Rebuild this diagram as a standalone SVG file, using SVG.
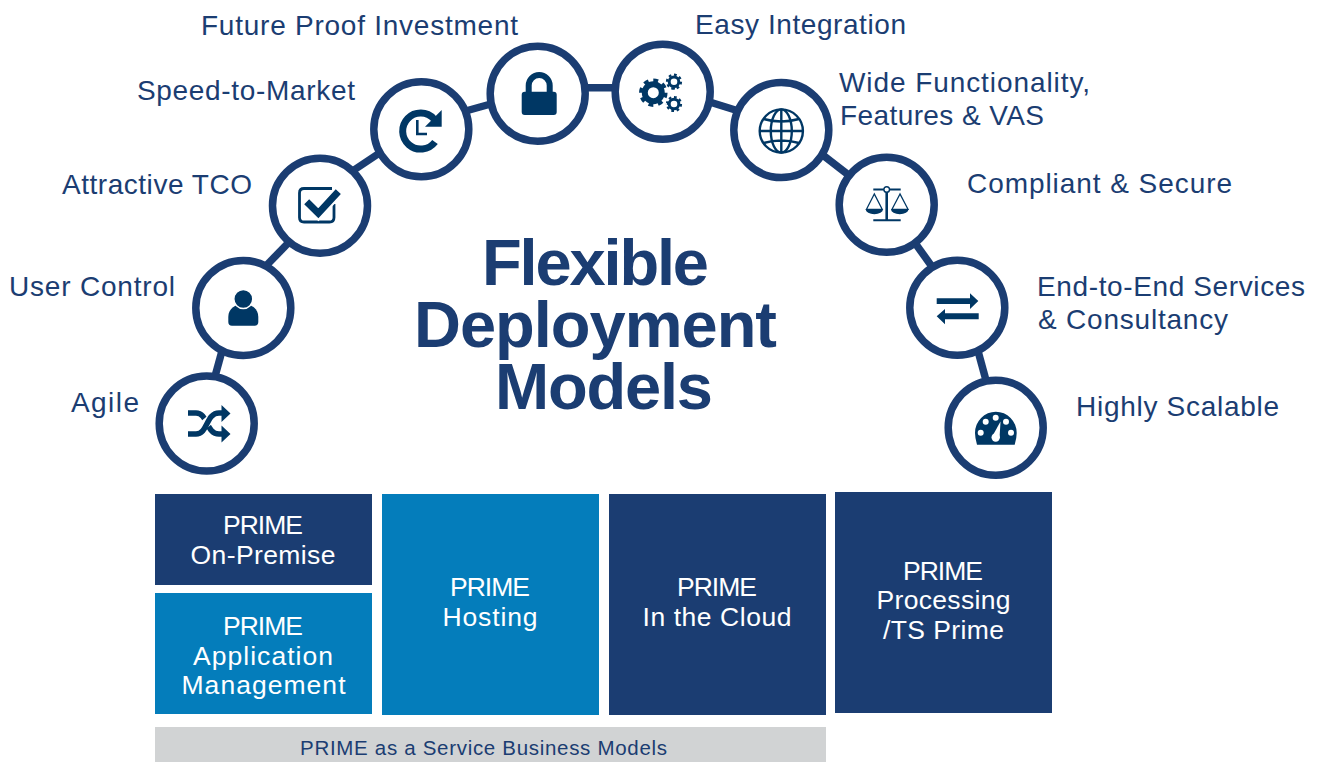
<svg xmlns="http://www.w3.org/2000/svg" width="1322" height="762" viewBox="0 0 1322 762">
<style>
text{font-family:"Liberation Sans","Open Sans",sans-serif}
.l{font-size:28px;fill:#1b3d72}
.t{font-size:65px;font-weight:700;fill:#1b3d72;text-anchor:middle}
.b{font-size:26.5px;fill:#fff;text-anchor:middle}
.g{font-size:20.5px;fill:#1b3d72}
.c{fill:#fff;stroke:#1b3d72;stroke-width:7.5}
.k{stroke:#1b3d72;stroke-width:7.5;fill:none}
.f{fill:#003764}
.s{fill:none;stroke:#003764}
.n{fill:#1b3d72}.h{fill:#047dbb}
</style>
<rect width="1322" height="762" fill="#fff"/>
<g id="connectors" class="k">
<path d="M225 340L214 380"/>
<path d="M262 270L295 236"/>
<path d="M345 176L390 146"/>
<path d="M455 114L505 100"/>
<path d="M575 87.7H625"/>
<path d="M700 99L745 113"/>
<path d="M815 149L855 180"/>
<path d="M910 236L938 275"/>
<path d="M975 340L990 395"/>
</g>
<g id="agile"><circle class="c" cx="206.7" cy="423.5" r="47.5"/>
<path class="s" stroke-width="5.5" d="M188 413H196C208 413 206 434 219 434H224"/>
<path fill="none" stroke="#fff" stroke-width="9" d="M200 428L212 418"/>
<path class="s" stroke-width="5.5" d="M188 434H196C208 434 206 413 219 413H224"/>
<path class="f" d="M221.5 405L230.5 413.500L221.5 422ZM221.5 425.500L230.5 434L221.5 442.500Z"/>
<text class="l" x="71" y="411.5" textLength="68" lengthAdjust="spacing">Agile</text></g>
<g id="user-control"><circle class="c" cx="243.3" cy="308" r="47.5"/>
<path class="f" d="M228.3 322V317C228.3 308 236 304 243.3 304S258.3 308 258.3 317V322Q258.3 325.7 254.5 325.7H232Q228.3 325.7 228.3 322Z"/>
<circle class="f" cx="243.3" cy="299" r="9.500" stroke="#fff" stroke-width="1.500"/>
<text class="l" x="9" y="295.5" textLength="166" lengthAdjust="spacing">User Control</text></g>
<g id="attractive-tco"><circle class="c" cx="320" cy="205.7" r="47.5"/>
<path class="s" stroke-width="2.800" d="M332 188.500H304Q299.500 188.500 299.500 193V217.500Q299.500 222 304 222H329.500Q334 222 334 217.500V204"/>
<path fill="none" stroke="#fff" stroke-width="11" d="M307 202L318.300 213.300L339 191"/>
<path class="s" stroke-width="7" d="M306.700 201.700L318.300 213.300L338.300 191.700"/>
<text class="l" x="62" y="193.5" textLength="190" lengthAdjust="spacing">Attractive TCO</text></g>
<g id="speed-to-market"><circle class="c" cx="421.3" cy="129.3" r="47.5"/>
<path class="s" stroke-width="7" d="M434 119A18 18 0 1 0 435 142"/>
<path class="f" d="M441.700 110V126.700H425Z"/>
<path class="s" stroke-width="2.600" d="M417.300 120V134H427"/>
<text class="l" x="137" y="99.5" textLength="218" lengthAdjust="spacing">Speed-to-Market</text></g>
<g id="future-proof-investment"><circle class="c" cx="537.7" cy="93.7" r="47.5"/>
<path class="s" stroke-width="6" d="M528.700 92V85.500A10.500 10.500 0 0 1 549.700 85.500V92"/>
<rect class="f" x="521.7" y="91.7" width="35" height="23.3" rx="3"/>
<text class="l" x="201" y="34.5" textLength="317" lengthAdjust="spacing">Future Proof Investment</text></g>
<g id="easy-integration"><circle class="c" cx="662.7" cy="91.7" r="47.5"/>
<circle class="s" cx="653.3" cy="92.7" r="8.500" stroke-width="6"/>
<circle class="s" cx="653.3" cy="92.7" r="12.500" stroke-width="3.500" pathLength="16" stroke-dasharray="1 1"/>
<circle class="s" cx="674" cy="81.7" r="4.800" stroke-width="3"/>
<circle class="s" cx="674" cy="81.7" r="7" stroke-width="2.200" pathLength="16" stroke-dasharray="1 1"/>
<circle class="s" cx="674" cy="104" r="4.800" stroke-width="3"/>
<circle class="s" cx="674" cy="104" r="7" stroke-width="2.200" pathLength="16" stroke-dasharray="1 1"/>
<text class="l" x="695" y="33.5" textLength="211" lengthAdjust="spacing">Easy Integration</text></g>
<g id="wide-functionality"><circle class="c" cx="781.3" cy="130" r="47.5"/>
<g class="s" stroke-width="2.400"><circle cx="781.3" cy="131" r="21.6"/><ellipse cx="781.3" cy="131" rx="10.500" ry="21.6"/>
<path d="M781.300 109.400V152.600M759.700 131H803M763.500 119Q781.300 124 799 119M763.500 143Q781.300 138 799 143"/></g>
<text class="l" x="839" y="91.5" textLength="251" lengthAdjust="spacing">Wide Functionality,</text>
<text class="l" x="840" y="124.5" textLength="204" lengthAdjust="spacing">Features &amp; VAS</text></g>
<g id="compliant-secure"><circle class="c" cx="886.7" cy="204.7" r="47.5"/>
<path class="s" stroke-width="2" d="M873.300 189.500H900.700M873.300 220.300H900.700"/>
<path class="s" stroke-width="2.600" d="M886.700 190V220"/>
<circle cx="886.7" cy="189.5" r="2.8" fill="#fff" stroke="#003764" stroke-width="1.4"/>
<path class="s" stroke-width="1.300" d="M874.300 194L866.500 209.300H882.200ZM900 194L892 209.300H908Z"/>
<path class="f" d="M865.700 209.300H883A8.600 5 0 0 1 865.700 209.300ZM891 209.300H908.500A8.700 5 0 0 1 891 209.300Z"/>
<text class="l" x="967" y="192.5" textLength="265" lengthAdjust="spacing">Compliant &amp; Secure</text></g>
<g id="end-to-end-services"><circle class="c" cx="957.3" cy="307.7" r="47.5"/>
<path class="f" d="M936.700 298.300H970V293.300L978.300 301L970 309V304H936.700ZM978.700 313.300H945V309L936.700 316.300L945 324.300V319.300H978.700Z"/>
<text class="l" x="1037" y="295.5" textLength="268" lengthAdjust="spacing">End-to-End Services</text>
<text class="l" x="1038" y="328.5" textLength="190" lengthAdjust="spacing">&amp; Consultancy</text></g>
<g id="highly-scalable"><circle class="c" cx="995.7" cy="427.7" r="47.5"/>
<path class="f" d="M977 444.700Q975 438 975 433A20.800 21.300 0 0 1 1016.700 433Q1016.700 438 1014.700 444.700Z"/>
<g fill="#fff"><circle cx="980.7" cy="432.7" r="3"/><circle cx="985.7" cy="421.7" r="3"/><circle cx="995.7" cy="417.7" r="3"/><circle cx="1006" cy="421.7" r="3"/><circle cx="1011" cy="432.7" r="3"/><circle cx="995.7" cy="437.5" r="4.2"/><path d="M992.500 436L1000.500 421.500L999.500 438Z"/></g>
<text class="l" x="1076" y="415.5" textLength="203" lengthAdjust="spacing">Highly Scalable</text></g>
<g id="title"><text class="t" x="595.5" y="285" textLength="227" lengthAdjust="spacing">Flexible</text>
<text class="t" x="595.5" y="347" textLength="363" lengthAdjust="spacing">Deployment</text>
<text class="t" x="604" y="409" textLength="218" lengthAdjust="spacing">Models</text></g>
<g id="on-premise"><rect class="n" x="155" y="494" width="217" height="91"/><text class="b" x="263" y="534" textLength="80" lengthAdjust="spacing">PRIME</text><text class="b" x="263" y="564" textLength="145" lengthAdjust="spacing">On-Premise</text></g>
<g id="application-management"><rect class="h" x="155" y="593" width="217" height="121"/><text class="b" x="263" y="635" textLength="80" lengthAdjust="spacing">PRIME</text><text class="b" x="263" y="664.500" textLength="140" lengthAdjust="spacing">Application</text><text class="b" x="263.5" y="694" textLength="164" lengthAdjust="spacing">Management</text></g>
<g id="hosting"><rect class="h" x="382" y="494" width="217" height="221"/><text class="b" x="490" y="596" textLength="80" lengthAdjust="spacing">PRIME</text><text class="b" x="490" y="626" textLength="95" lengthAdjust="spacing">Hosting</text></g>
<g id="in-the-cloud"><rect class="n" x="609" y="494" width="217" height="221"/><text class="b" x="717" y="596" textLength="80" lengthAdjust="spacing">PRIME</text><text class="b" x="717" y="626" textLength="149" lengthAdjust="spacing">In the Cloud</text></g>
<g id="processing"><rect class="n" x="835" y="492" width="217" height="221"/><text class="b" x="943" y="580" textLength="80" lengthAdjust="spacing">PRIME</text><text class="b" x="943.5" y="609" textLength="134" lengthAdjust="spacing">Processing</text><text class="b" x="943.5" y="639" textLength="121" lengthAdjust="spacing">/TS Prime</text></g>
<g id="service-models"><rect fill="#d1d3d4" x="155" y="727" width="671" height="35"/><text class="g" x="300" y="755" textLength="367" lengthAdjust="spacing">PRIME as a Service Business Models</text></g>
</svg>
